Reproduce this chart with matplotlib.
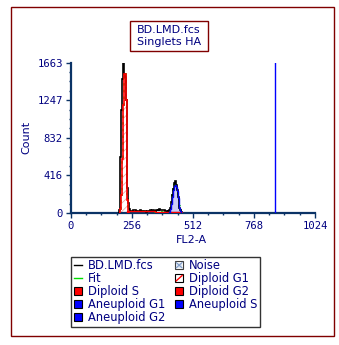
import numpy as np
import matplotlib
matplotlib.use("Agg")
import matplotlib.pyplot as plt
from matplotlib.patches import Patch, Rectangle
from matplotlib.lines import Line2D
from matplotlib.legend_handler import HandlerBase

plt.rcParams['font.family'] = ['DejaVu Sans']
plt.rcParams['hatch.linewidth'] = 0.6

# ---------------- data (channel bins of width 4) ----------------
BIN = 4
data_start = 200
data_counts = [5, 30, 617, 1137, 1480, 1663, 1541, 1500, 1245, 280, 110,
               40, 25, 20, 22, 28, 35, 30, 22, 20, 24, 18, 22, 30, 26, 20, 18, 22, 20, 15, 18,
               20, 24, 30, 22, 28, 35, 25, 20, 30, 38, 25, 32, 40, 30, 35, 28, 38, 30, 25, 20,
               15, 20, 30, 60, 120, 200, 270, 330, 352, 310, 250, 180, 110, 60, 30, 15, 5]

dip_g1_start = 204
dip_g1 = [0, 40, 200, 600, 1200, 1541, 1541, 1245, 140, 10]

dip_s_edges = [236, 352, 468]
dip_s = [25, 15]

dip_g2_start = 448
dip_g2 = [8, 8, 8]

ane_g1_start = 408
ane_g1 = [0, 10, 40, 100, 180, 250, 295, 308, 290, 240, 170, 100, 50, 20, 5]

marker_channel = 855

x_ticks = [0, 256, 512, 768, 1024]
y_ticks = [0, 416, 832, 1247, 1663]
y_minor = [104, 208, 312, 520, 624, 728, 936, 1040, 1144, 1351, 1455, 1559]
x_minor = [64, 128, 192, 320, 384, 448, 576, 640, 704, 832, 896, 960]

title_text = "BD.LMD.fcs\nSinglets HA"
legend_labels = ["BD.LMD.fcs", "Fit", "Diploid S", "Aneuploid G1", "Aneuploid G2",
                 "Noise", "Diploid G1", "Diploid G2", "Aneuploid S"]

# ---------------- helpers ----------------
def edges_from(start, vals):
    return start + BIN * np.arange(len(vals) + 1)

grid_start = 200
grid_vals = np.zeros(len(data_counts))
def add_to_grid(start, vals):
    i0 = (start - grid_start) // BIN
    for k, v in enumerate(vals):
        if 0 <= i0 + k < len(grid_vals):
            grid_vals[i0 + k] += v

add_to_grid(dip_g1_start, dip_g1)
add_to_grid(ane_g1_start, ane_g1)
add_to_grid(dip_g2_start, dip_g2)
for a, b, v in zip(dip_s_edges[:-1], dip_s_edges[1:], dip_s):
    add_to_grid(a, [v] * ((b - a) // BIN))
fit_vals = grid_vals


class BoxHandler(HandlerBase):
    """White box with either a cross pattern (noise) or one diagonal (diploid G1)."""
    def __init__(self, kind, color, ecolor='black'):
        super().__init__()
        self.kind = kind
        self.color = color
        self.ecolor = ecolor

    def create_artists(self, legend, orig_handle, xdescent, ydescent, width, height,
                       fontsize, trans):
        x0, y0 = -xdescent, -ydescent
        arts = [Rectangle((x0, y0), width, height, facecolor='white',
                          edgecolor=self.ecolor, lw=0.8, transform=trans)]
        if self.kind == 'cross':
            arts.append(Rectangle((x0 + 1, y0 + 1), width - 2, height - 2, facecolor='#dde6f2',
                                  edgecolor='none', transform=trans))
            arts.append(Line2D([x0 + 1, x0 + width - 1], [y0 + 1, y0 + height - 1],
                               color=self.color, lw=0.8, transform=trans))
            arts.append(Line2D([x0 + 1, x0 + width - 1], [y0 + height - 1, y0 + 1],
                               color=self.color, lw=0.8, transform=trans))
        else:
            arts.append(Line2D([x0 + 1, x0 + width - 1], [y0 + 1, y0 + height - 1],
                               color=self.color, lw=1.0, transform=trans))
        return arts


W, H = 339, 345
fig = plt.figure(figsize=(W / 100, H / 100), dpi=100)
fig.patch.set_facecolor('white')

navy = '#000080'
spine_c = '#0b3366'

ax = fig.add_axes([70.7 / W, 1 - 213 / H, (315 - 70.7) / W, (213 - 62.7) / H])

# components
ax.stairs(dip_g1, edges_from(dip_g1_start, dip_g1), fill=True, facecolor='white',
          edgecolor='#f2a6a6', hatch='////', lw=0, zorder=2)
ax.stairs(ane_g1, edges_from(ane_g1_start, ane_g1), fill=True, facecolor='#ccccf6',
          lw=0, zorder=2)
ax.stairs(dip_s, dip_s_edges, fill=True, facecolor='red', lw=0, zorder=2.5)
ax.stairs(dip_g2, edges_from(dip_g2_start, dip_g2), fill=True, facecolor='red', lw=0, zorder=2.5)

# fit (under the data and component outlines)
ax.stairs(fit_vals, edges_from(grid_start, fit_vals), color='#00dd00', lw=1.2,
          linestyle=(0, (1.5, 2.5)), zorder=2.8)

# data
ax.stairs(data_counts, edges_from(data_start, data_counts), color='black', lw=1.2, zorder=3)

# outlines
ax.stairs(dip_g1, edges_from(dip_g1_start, dip_g1), color='red', lw=1.2, zorder=4)
ax.stairs(dip_s, dip_s_edges, color='red', lw=1.0, zorder=4)
ax.stairs(ane_g1, edges_from(ane_g1_start, ane_g1), color='#0000ee', lw=1.0, zorder=4)

ax.axvline(marker_channel, color='#0000ff', lw=1.0, zorder=5)

ax.set_xlim(0, 1024)
ax.set_ylim(0, 1663)
ax.set_xticks(x_ticks)
ax.set_yticks(y_ticks)
ax.set_xticks(x_minor, minor=True)
ax.set_yticks(y_minor, minor=True)
for lab in ax.get_xticklabels() + ax.get_yticklabels():
    lab.set_fontfamily('DejaVu Sans Mono')
    lab.set_fontsize(7.6)
    lab.set_color(navy)

for s in ['top', 'right']:
    ax.spines[s].set_visible(False)
for s in ['left', 'bottom']:
    ax.spines[s].set_color(spine_c)
    ax.spines[s].set_linewidth(1.6)
ax.tick_params(which='major', direction='out', length=3.6, width=1.0, color=spine_c, pad=2)
ax.tick_params(which='minor', direction='out', length=1.6, width=1.0, color=spine_c)

ax.set_ylabel('Count', fontsize=8, color=navy)
ax.set_xlabel('FL2-A', fontsize=8, color=navy)
ax.yaxis.set_label_coords((31 - 70.7) / 244.3, 0.5)
ax.xaxis.set_label_coords((191 - 70.7) / 244.3, (213 - 235) / 150.3)

# title box
fig.add_artist(Rectangle((129.7 / W, 1 - 50.7 / H), 78 / W, 29.4 / H, transform=fig.transFigure,
                         facecolor='white', edgecolor='#800000', lw=1.0))
fig.text(168.7 / W, 1 - 36.3 / H, title_text, ha='center', va='center', fontsize=8,
         color=navy, linespacing=1.25)

# outer border
fig.add_artist(Rectangle((11 / W, 1 - 336 / H), 323 / W, 329 / H, transform=fig.transFigure,
                         fill=False, edgecolor='#800000', lw=1.0))

# legend
h_data = Line2D([], [], color='black', lw=1)
h_fit = Line2D([], [], color='#00dd00', lw=1)
h_dips = Patch(facecolor='red', edgecolor='black', lw=0.8)
h_aneg1 = Patch(facecolor='#0000ff', edgecolor='black', lw=0.8)
h_aneg2 = Patch(facecolor='#0000ff', edgecolor='black', lw=0.8)
h_noise = Patch(facecolor='white', edgecolor='black')
h_dipg1 = Patch(facecolor='white', edgecolor='black')
h_dipg2 = Patch(facecolor='red', edgecolor='black', lw=0.8)
h_anes = Patch(facecolor='#0000ff', edgecolor='black', lw=0.8)

leg = fig.legend([h_data, h_fit, h_dips, h_aneg1, h_aneg2, h_noise, h_dipg1, h_dipg2, h_anes],
                 legend_labels, ncol=2, loc='upper left',
                 bbox_to_anchor=(71.3 / W, 1 - 256.7 / H), bbox_transform=fig.transFigure,
                 fontsize=8.3, frameon=True, fancybox=False, shadow=False,
                 handlelength=0.75, handleheight=0.7, handletextpad=0.5, columnspacing=0.8,
                 labelspacing=0.0, borderpad=0.22, borderaxespad=0,
                 handler_map={h_noise: BoxHandler('cross', '#7f9cc8', '#404040'),
                              h_dipg1: BoxHandler('diag', 'red', 'black')})
leg.get_frame().set_edgecolor('black')
leg.get_frame().set_linewidth(1.0)
for t in leg.get_texts():
    t.set_color(navy)

fig.savefig('out.png', dpi=100)
